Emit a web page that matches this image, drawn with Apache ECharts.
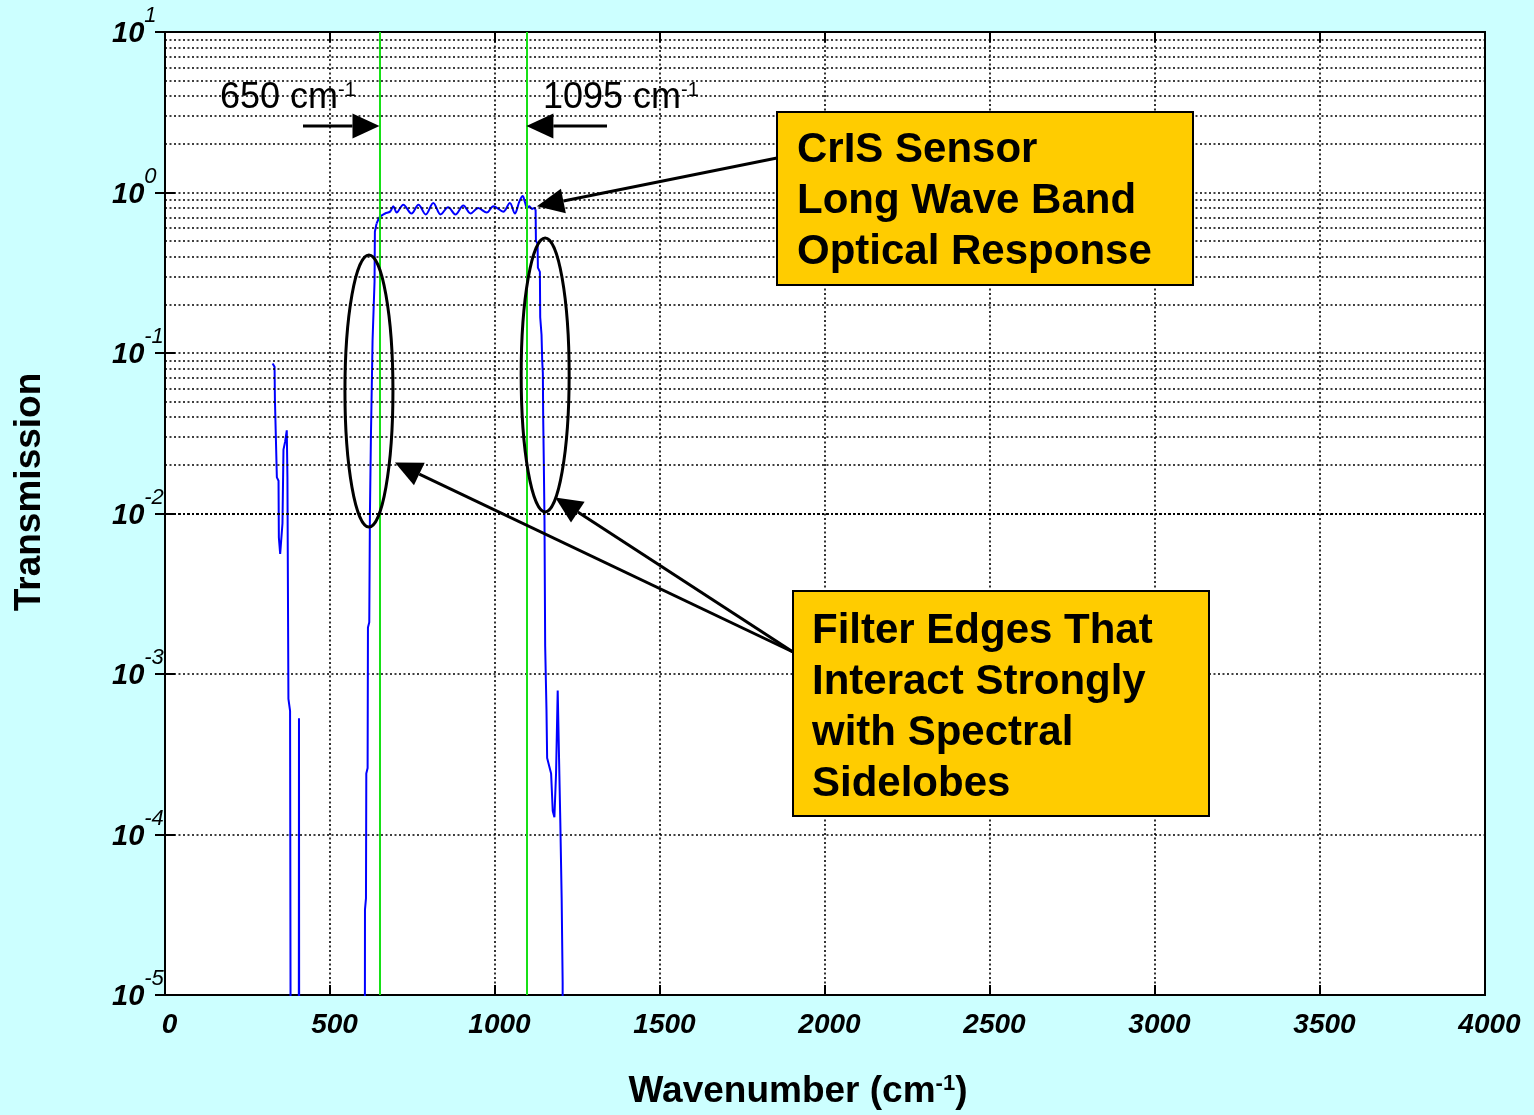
<!DOCTYPE html>
<html>
<head>
<meta charset="utf-8">
<title>CrIS Long Wave Band Optical Response</title>
<script src="https://cdn.jsdelivr.net/npm/echarts@6/dist/echarts.min.js"></script>
<style>
  html, body { margin: 0; padding: 0; background: #ccffff; }
  #chart { width: 1534px; height: 1115px; }
</style>
</head>
<body>
<div id="chart"></div>
<script>
// wavenumber (cm-1) and transmission of the long wave band filter
// (1e-7 = below the bottom of the axis)
const wavenumber = [
  326, 332, 333, 338, 339, 344, 345, 349, 353, 356, 359, 364, 369, 371, 374, 379, 382,
  405, 406, 407,
  605, 606, 609, 610, 614, 615, 619, 621, 624, 629, 635, 636, 641,
  650, 657, 667, 682, 692, 702, 722, 747, 768, 790, 813, 835, 858, 880, 904, 926, 949,
  975, 995, 1025, 1045, 1060, 1074, 1084, 1090, 1098, 1104, 1112, 1119, 1123,
  1124, 1129, 1130, 1136, 1137, 1141, 1143, 1145, 1146, 1148, 1150, 1152, 1156, 1158,
  1170, 1175, 1180, 1185, 1190, 1193, 1196, 1198, 1202, 1205, 1206
];
const transmission = [
  0.086, 0.082, 0.052, 0.051, 0.0168, 0.016, 0.0071, 0.0056, 0.0056, 0.0087, 0.025, 0.028, 0.033, 0.0168, 0.0007, 0.00059, 1e-7,
  1e-7, 5.3e-4, 1e-7,
  1e-7, 3.4e-5, 4e-5, 2.4e-4, 2.6e-4, 1.95e-3, 2.1e-3, 0.01, 0.03, 0.12, 0.28, 0.57, 0.64,
  0.70, 0.72, 0.74, 0.76, 0.82, 0.75, 0.84, 0.74, 0.84, 0.73, 0.86, 0.73, 0.81, 0.73, 0.83, 0.74, 0.80,
  0.75, 0.82, 0.76, 0.86, 0.74, 0.88, 0.95, 0.88, 0.80, 0.82, 0.79, 0.80, 0.78,
  0.50, 0.48, 0.34, 0.32, 0.167, 0.13, 0.09, 0.075, 0.04, 0.02, 0.009, 0.0015, 6e-4, 3e-4,
  2.4e-4, 1.4e-4, 1.28e-4, 2.4e-4, 7.9e-4, 8e-4, 7.9e-4, 1.17e-4, 4e-5, 1.2e-5, 1e-7
];

// band edges marked with green lines
const bandEdges = [650, 1095];

// log grid: decades and the 2..9 sub-lines inside each
const decades = [1e-5, 1e-4, 1e-3, 1e-2, 1e-1, 1];
const subSteps = [2, 3, 4, 5, 6, 7, 8, 9];

const FONT = "'Liberation Sans', Arial, Helvetica, sans-serif";

const minorGrid = [];
decades.forEach(d => subSteps.forEach(s => minorGrid.push(+(d * s).toPrecision(3))));

const points = wavenumber.map((x, i) => [x, transmission[i]]);
// ripple part of the passband is drawn smooth, the edges straight
const rippleStart = 641, rippleEnd = 1123;
const edgeLeft = points.filter(p => p[0] <= rippleStart);
const ripple = points.filter(p => p[0] >= rippleStart && p[0] <= rippleEnd);
const edgeRight = points.filter(p => p[0] >= rippleEnd);

const dotted = { color: '#000', type: [2, 2.5], width: 1.6 };
const blueLine = { color: '#0000ff', width: 2 };

const chart = echarts.init(document.getElementById('chart'));

chart.setOption({
  backgroundColor: '#ccffff',
  animation: false,
  grid: {
    left: 165, top: 32, width: 1320, height: 963,
    show: true, backgroundColor: '#fff', borderColor: '#000', borderWidth: 2
  },
  xAxis: [{
    type: 'value', min: 0, max: 4000, interval: 500, position: 'bottom',
    axisLine: { show: true, lineStyle: { color: '#000', width: 2 } },
    axisTick: { show: true, inside: true, length: 10, lineStyle: { color: '#000', width: 2 } },
    axisLabel: {
      margin: 16, color: '#000', fontFamily: FONT, fontSize: 28,
      fontWeight: 'bold', fontStyle: 'italic', padding: [0, 0, 0, 9],
      formatter: v => String(v)
    },
    splitLine: { show: true, lineStyle: dotted }
  }, {
    type: 'value', min: 0, max: 4000, interval: 500, position: 'top',
    axisLine: { show: true, lineStyle: { color: '#000', width: 2 } },
    axisTick: { show: true, inside: true, length: 10, lineStyle: { color: '#000', width: 2 } },
    axisLabel: { show: false },
    splitLine: { show: false }
  }],
  yAxis: [{
    type: 'log', logBase: 10, min: 1e-5, max: 10, interval: 1, position: 'left',
    axisLine: { show: true, lineStyle: { color: '#000', width: 2 } },
    axisTick: { show: true, inside: true, length: 10, lineStyle: { color: '#000', width: 2 } },
    axisLabel: {
      margin: 53, align: 'left',
      formatter: v => '{b|10}{s|' + Math.round(Math.log10(v)) + '}',
      rich: {
        b: { fontFamily: FONT, fontSize: 29, fontWeight: 'bold', fontStyle: 'italic', color: '#000', padding: [4, 0, 0, 0] },
        s: { fontFamily: FONT, fontSize: 22, fontStyle: 'italic', color: '#000', padding: [0, 0, 32, 0] }
      }
    },
    splitLine: { show: true, lineStyle: dotted }
  }, {
    type: 'log', logBase: 10, min: 1e-5, max: 10, interval: 1, position: 'right',
    axisLine: { show: true, lineStyle: { color: '#000', width: 2 } },
    axisTick: { show: true, inside: true, length: 10, lineStyle: { color: '#000', width: 2 } },
    axisLabel: { show: false },
    splitLine: { show: false }
  }],
  series: [
    {
      type: 'line', data: edgeLeft, showSymbol: false, clip: true, z: 3,
      lineStyle: blueLine
    },
    {
      type: 'line', data: ripple, showSymbol: false, clip: true, z: 3, smooth: 0.35,
      lineStyle: blueLine
    },
    {
      type: 'line', data: edgeRight, showSymbol: false, clip: true, z: 3,
      lineStyle: blueLine
    },
    {
      // dotted minor log grid
      type: 'line', data: [], z: 1, silent: true,
      markLine: {
        silent: true, symbol: ['none', 'none'], label: { show: false },
        lineStyle: dotted, animation: false,
        data: minorGrid.map(v => ({ yAxis: v }))
      }
    },
    {
      // band edge markers
      type: 'line', data: [], z: 5, silent: true,
      markLine: {
        silent: true, symbol: ['none', 'none'], label: { show: false },
        lineStyle: { color: '#16e016', width: 2, type: 'solid' }, animation: false,
        data: bandEdges.map(x => ({ xAxis: x }))
      }
    }
  ]
});

// ---- annotations ----
const px = (x, y) => chart.convertToPixel({ seriesIndex: 0 }, [x, y]);

function arrow(from, to) {
  const dx = to[0] - from[0], dy = to[1] - from[1];
  const len = Math.hypot(dx, dy), ux = dx / len, uy = dy / len;
  const headLen = 27, headW = 25;
  const bx = to[0] - ux * headLen, by = to[1] - uy * headLen;
  const nx = -uy * headW / 2, ny = ux * headW / 2;
  return [
    { type: 'line', z: 10, shape: { x1: from[0], y1: from[1], x2: bx, y2: by },
      style: { stroke: '#000', lineWidth: 3 } },
    { type: 'polygon', z: 10, shape: { points: [to, [bx + nx, by + ny], [bx - nx, by - ny]] },
      style: { fill: '#000' } }
  ];
}

const tip650 = px(bandEdges[0], 2.6);
const tip1095 = px(bandEdges[1], 2.6);
const ellLeft = px(618, 0.058);
const ellRight = px(1152, 0.073);

const annRich = {
  n: { fontFamily: FONT, fontSize: 36, color: '#000' },
  s: { fontFamily: FONT, fontSize: 20, color: '#000', padding: [0, 0, 16, 0] }
};
const boxText = { fontFamily: FONT, fontSize: 42, fontWeight: 'bold', fill: '#000', lineHeight: 51 };

chart.setOption({
  graphic: [
    // axis titles
    { type: 'text', x: 798, y: 1092, z: 10,
      style: { text: '{t|Wavenumber (cm}{s|-1}{t|)}', align: 'center', verticalAlign: 'middle',
        rich: {
          t: { fontFamily: FONT, fontSize: 37, fontWeight: 'bold', color: '#000' },
          s: { fontFamily: FONT, fontSize: 22, fontWeight: 'bold', color: '#000', padding: [0, 0, 16, 0] }
        } } },
    { type: 'text', x: 30, y: 492, rotation: Math.PI / 2, z: 10,
      style: { text: 'Transmission', align: 'center', verticalAlign: 'middle',
        fontFamily: FONT, fontSize: 37, fontWeight: 'bold', fill: '#000' } },

    // band edge labels and arrows
    { type: 'text', x: 220, y: 98, z: 10,
      style: { text: '{n|650 cm}{s|-1}', align: 'left', verticalAlign: 'middle', rich: annRich } },
    { type: 'text', x: 543, y: 98, z: 10,
      style: { text: '{n|1095 cm}{s|-1}', align: 'left', verticalAlign: 'middle', rich: annRich } },
    ...arrow([303, tip650[1]], tip650),
    ...arrow([607, tip1095[1]], tip1095),

    // ellipses round the filter edges
    { type: 'ellipse', z: 10, shape: { cx: ellLeft[0], cy: ellLeft[1], rx: 24, ry: 136 },
      style: { fill: null, stroke: '#000', lineWidth: 3 } },
    { type: 'ellipse', z: 10, shape: { cx: ellRight[0], cy: ellRight[1], rx: 24, ry: 137 },
      style: { fill: null, stroke: '#000', lineWidth: 3 } },

    // callout boxes
    { type: 'rect', z: 10, shape: { x: 777, y: 112, width: 416, height: 173 },
      style: { fill: '#ffcc00', stroke: '#000', lineWidth: 2 } },
    { type: 'text', x: 797, y: 125, z: 11,
      style: Object.assign({ text: 'CrIS Sensor\nLong Wave Band\nOptical Response', verticalAlign: 'top' }, boxText) },
    ...arrow([777, 158], px(1127, 0.82)),

    { type: 'rect', z: 10, shape: { x: 793, y: 591, width: 416, height: 225 },
      style: { fill: '#ffcc00', stroke: '#000', lineWidth: 2 } },
    { type: 'text', x: 812, y: 606, z: 11,
      style: Object.assign({ text: 'Filter Edges That\nInteract Strongly\nwith Spectral\nSidelobes', verticalAlign: 'top' }, boxText) },
    ...arrow([793, 652], [ellLeft[0] + 26, px(697, 0.0208)[1]]),
    ...arrow([793, 652], [ellRight[0] + 10, px(1182, 0.0126)[1]])
  ]
});
</script>
</body>
</html>
